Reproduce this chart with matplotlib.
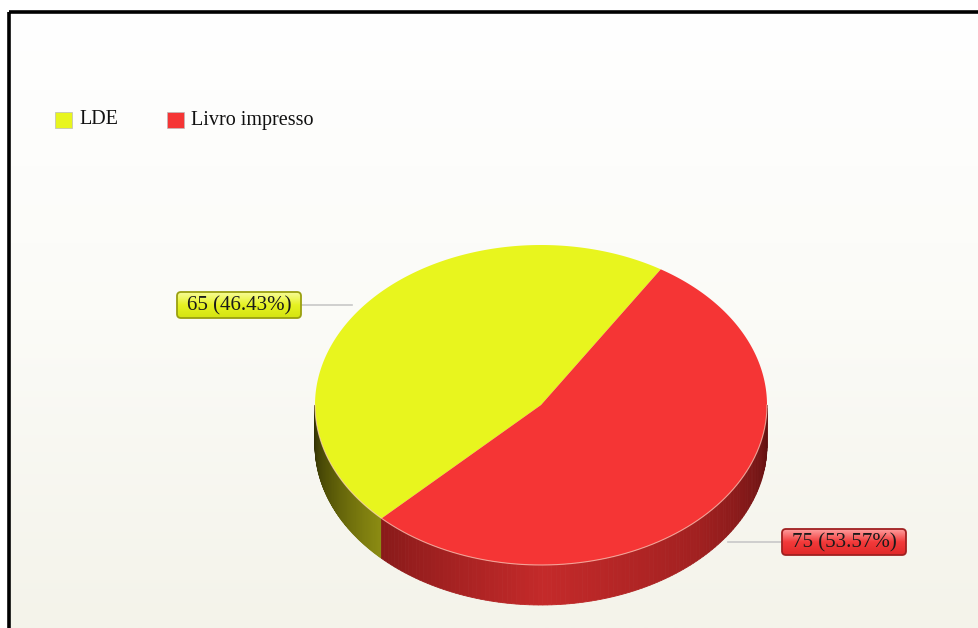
import numpy as np
import matplotlib.pyplot as plt
from matplotlib.patches import Polygon, Rectangle, FancyBboxPatch
from matplotlib.colors import LinearSegmentedColormap

plt.rcParams['font.family'] = ['Liberation Serif', 'DejaVu Serif']

categories = ['LDE', 'Livro impresso']
values = [65, 75]
top_colors = ['#e8f51e', '#f53535']
side_cmaps = [
    LinearSegmentedColormap.from_list('yel', ['#2e2e04', '#5a5a08', '#8c8c12']),
    LinearSegmentedColormap.from_list('red', ['#8a1a1a', '#c42a2a', '#a02020', '#5e1010']),
]
box_cmaps = [
    LinearSegmentedColormap.from_list('ybox', ['#f8fc9a', '#e6f222', '#d4e410']),
    LinearSegmentedColormap.from_list('rbox', ['#ffa0a0', '#f23a3a', '#e02828']),
]
box_edges = ['#9aa010', '#a02020']

W, H = 979, 628
fig = plt.figure(figsize=(W / 100, H / 100), dpi=100)
ax = fig.add_axes([0, 0, 1, 1])
ax.set_xlim(0, W)
ax.set_ylim(H, 0)
ax.axis('off')

# background: soft vertical gradient inside a framed panel
grad = np.linspace(0, 1, 256).reshape(-1, 1)
bg = LinearSegmentedColormap.from_list('bg', ['#ffffff', '#fbfbf7', '#f4f3ea'])
ax.imshow(grad, cmap=bg, extent=(9, W + 5, H, 12), aspect='auto', zorder=0)
ax.add_patch(Rectangle((9, 12), W + 20, H + 20, fill=False, ec='black', lw=2.6, zorder=1))

# 3D pie geometry (screen pixels)
cx, cy, rx, ry, depth = 541, 405, 226, 160, 40
start = 58.0
total = sum(values)
spans = [v / total * 360 for v in values]


def rim(t):
    r = np.radians(t)
    return cx + rx * np.cos(r), cy - ry * np.sin(r)


angle = start
bounds = []
for s in spans:
    bounds.append((angle, angle + s))
    angle += s

# side walls, front half only
for (a0, a1), cmap in zip(bounds, side_cmaps):
    lo, hi = max(a0, 180), min(a1, 360)
    if hi <= lo:
        continue
    ts = np.linspace(lo, hi, 120)
    for i in range(len(ts) - 1):
        x0, y0 = rim(ts[i])
        x1, y1 = rim(ts[i + 1])
        frac = (ts[i] - lo) / (hi - lo)
        ax.add_patch(Polygon([(x0, y0), (x1, y1), (x1, y1 + depth), (x0, y0 + depth)],
                             closed=True, fc=cmap(frac), ec=cmap(frac), lw=0.6, zorder=2))

# top face wedges
for (a0, a1), col in zip(bounds, top_colors):
    ts = np.linspace(a0, a1, 200)
    pts = [(cx, cy)] + [rim(t) for t in ts]
    ax.add_patch(Polygon(pts, closed=True, fc=col, ec='none', zorder=3))
ts = np.linspace(180, 360, 200)
xs, ys = zip(*[rim(t) for t in ts])
ax.plot(xs, ys, color='#ffd0c0', lw=0.8, alpha=0.7, zorder=4)

# value labels in gradient boxes with leader lines
label_pos = [(239, 305, 352), (844, 542, 728)]
box_w, box_h = 124, 26
for v, (lx, ly, ex), cmap, ec in zip(values, label_pos, box_cmaps, box_edges):
    x_end = lx + box_w / 2 if ex > lx else lx - box_w / 2
    ax.plot([ex, x_end], [ly, ly], color='#c8c8c8', lw=1.2, zorder=1.5)
    x0, y0 = lx - box_w / 2, ly - box_h / 2
    box = FancyBboxPatch((x0, y0), box_w, box_h, boxstyle='round,pad=0,rounding_size=4',
                         fc='none', ec=ec, lw=1.3, zorder=6)
    ax.add_patch(box)
    img = ax.imshow(grad, cmap=cmap, extent=(x0, x0 + box_w, y0 + box_h, y0),
                    aspect='auto', zorder=5)
    img.set_clip_path(box)
    ax.text(lx, ly + 1, f'{v} ({v / total * 100:.2f}%)', ha='center', va='center',
            fontsize=15, color='#1a1a1a', zorder=7)

# legend
leg_x = [55, 167]
for lx, name, col in zip(leg_x, categories, top_colors):
    ax.add_patch(Rectangle((lx, 112), 17, 16, fc=col, ec='#bbbbbb', lw=0.5, zorder=5))
    ax.text(lx + 24, 120, name, ha='left', va='center', fontsize=14.5, color='#111111', zorder=5)

ax.set_xlim(0, W)
ax.set_ylim(H, 0)
fig.savefig('out.png', dpi=100)
